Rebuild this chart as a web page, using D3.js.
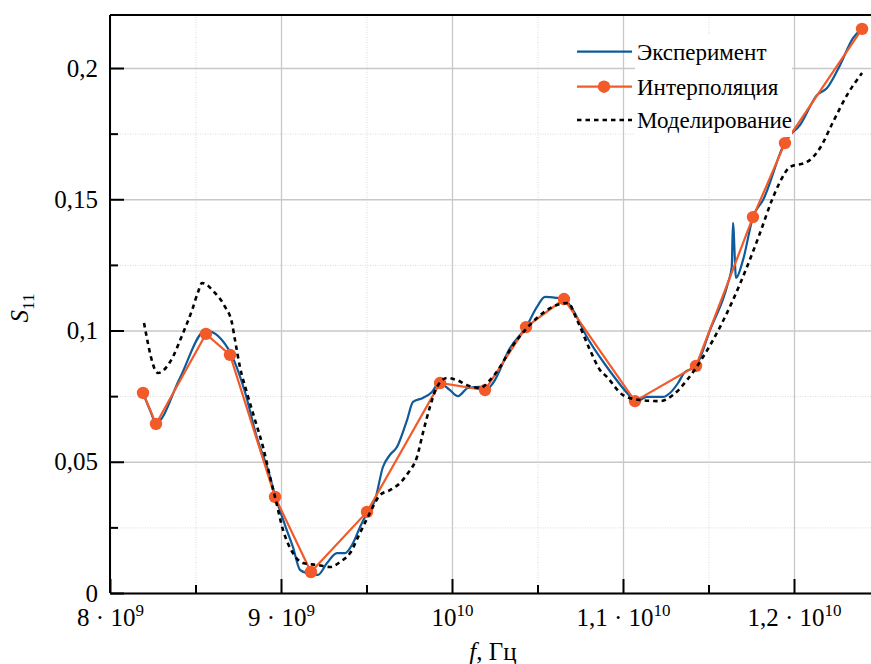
<!DOCTYPE html>
<html><head><meta charset="utf-8">
<script src="https://cdn.jsdelivr.net/npm/d3@7"></script>
<style>body{margin:0;background:#fff;overflow:hidden}</style>
</head><body><svg id="c" width="871" height="664"></svg>
<script>
// ---- data ----
const expF = [8.193e9,8.234e9,8.269e9,8.409e9,8.544e9,8.567e9,8.702e9,8.789e9,8.860e9,8.924e9,8.965e9,9.023e9,9.070e9,9.111e9,9.152e9,9.216e9,9.269e9,9.327e9,9.374e9,9.415e9,9.462e9,9.503e9,9.550e9,9.596e9,9.637e9,9.678e9,9.737e9,9.772e9,9.830e9,9.883e9,9.924e9,9.988e9,10.035e9,10.094e9,10.164e9,10.193e9,10.240e9,10.339e9,10.433e9,10.497e9,10.544e9,10.614e9,10.655e9,10.708e9,10.789e9,10.906e9,11.041e9,11.076e9,11.140e9,11.234e9,11.275e9,11.322e9,11.357e9,11.427e9,11.509e9,11.614e9,11.636e9,11.643e9,11.661e9,11.702e9,11.760e9,11.819e9,11.953e9,12.035e9,12.135e9,12.193e9,12.269e9,12.345e9,12.398e9];
const expS = [0.0762,0.0697,0.0648,0.0819,0.0994,0.0998,0.0918,0.0766,0.0590,0.0469,0.0373,0.0259,0.0175,0.0088,0.0076,0.0069,0.0114,0.0152,0.0152,0.0183,0.0251,0.0305,0.0354,0.0480,0.0526,0.0556,0.0659,0.0728,0.0743,0.0766,0.0800,0.0773,0.0750,0.0781,0.0785,0.0770,0.0800,0.0933,0.1013,0.1090,0.1128,0.1124,0.1120,0.1078,0.0975,0.0861,0.0750,0.0728,0.0747,0.0747,0.0762,0.0800,0.0838,0.0865,0.1002,0.1181,0.1242,0.1410,0.1200,0.1269,0.1432,0.1497,0.1726,0.1783,0.1897,0.1924,0.2011,0.2114,0.2149];

const interpF = [8.193e9,8.269e9,8.561e9,8.702e9,8.965e9,9.175e9,9.503e9,9.930e9,10.193e9,10.433e9,10.655e9,11.070e9,11.427e9,11.760e9,11.947e9,12.398e9];
const interpS = [0.0762,0.0644,0.0987,0.0907,0.0366,0.0080,0.0309,0.0800,0.0773,0.1013,0.1120,0.0731,0.0865,0.1432,0.1714,0.2149];

const modelF = [8.199e9,8.281e9,8.351e9,8.427e9,8.480e9,8.515e9,8.538e9,8.614e9,8.673e9,8.713e9,8.731e9,8.760e9,8.801e9,8.848e9,8.895e9,8.936e9,8.965e9,9.012e9,9.070e9,9.129e9,9.211e9,9.287e9,9.345e9,9.404e9,9.462e9,9.520e9,9.579e9,9.637e9,9.696e9,9.743e9,9.795e9,9.830e9,9.871e9,9.912e9,9.971e9,10.029e9,10.088e9,10.164e9,10.222e9,10.281e9,10.339e9,10.439e9,10.532e9,10.614e9,10.678e9,10.731e9,10.807e9,10.865e9,10.906e9,11.000e9,11.099e9,11.216e9,11.292e9,11.374e9,11.468e9,11.567e9,11.643e9,11.725e9,11.801e9,11.871e9,11.918e9,11.977e9,12.076e9,12.152e9,12.228e9,12.310e9,12.398e9];
const modelS = [0.1029,0.0838,0.0880,0.0990,0.1078,0.1147,0.1181,0.1143,0.1090,0.1029,0.0964,0.0861,0.0762,0.0659,0.0556,0.0442,0.0366,0.0240,0.0152,0.0114,0.0107,0.0099,0.0118,0.0152,0.0229,0.0305,0.0373,0.0392,0.0419,0.0457,0.0518,0.0610,0.0709,0.0785,0.0819,0.0811,0.0792,0.0781,0.0811,0.0861,0.0926,0.1010,0.1067,0.1097,0.1105,0.1040,0.0926,0.0850,0.0823,0.0754,0.0735,0.0731,0.0754,0.0811,0.0899,0.1013,0.1116,0.1242,0.1371,0.1497,0.1566,0.1623,0.1642,0.1695,0.1794,0.1897,0.1981];

const xMajorTicks = [8e9, 9e9, 1e10, 1.1e10, 1.2e10];
const xTickMantissa = ["8", "9", "", "1,1", "1,2"];
const xTickExponent = ["9", "9", "10", "10", "10"];
const xMinorTicks = [8.5e9, 9.5e9, 1.05e10, 1.15e10];
const yMajorTicks = [0, 0.05, 0.1, 0.15, 0.2];
const yTickLabels = ["0", "0,05", "0,1", "0,15", "0,2"];
const yMinorTicks = [0.025, 0.075, 0.125, 0.175];
const seriesNames = ["Эксперимент", "Интерполяция", "Моделирование"];
const xTitle = ["f", ", Гц"];
const yTitle = ["S", "11"];

// ---- layout ----
const L = 110, T = 15, B = 593, R = 879.5;
const FONT = "Liberation Serif";
const BLUE = "#0f5a9a", ORANGE = "#f35a29";

const svg = d3.select("#c");
const x = d3.scaleLinear().domain([8e9, 12.5e9]).range([L, R]);
const y = d3.scaleLinear().domain([0, 0.2202]).range([B, T]);

function grid(g, axis) { g.call(axis); g.select(".domain").remove(); g.selectAll("text").remove(); }
const gMinX = svg.append("g").attr("transform", `translate(0,${B})`);
grid(gMinX, d3.axisBottom(x).tickValues(xMinorTicks).tickSize(-(B - T)).tickFormat(""));
gMinX.selectAll("line").attr("stroke", "#dadada").attr("stroke-width", 1).attr("stroke-dasharray", "1,1.5");
const gMinY = svg.append("g").attr("transform", `translate(${L},0)`);
grid(gMinY, d3.axisLeft(y).tickValues(yMinorTicks).tickSize(-(R - L)).tickFormat(""));
gMinY.selectAll("line").attr("stroke", "#dadada").attr("stroke-width", 1).attr("stroke-dasharray", "1,1.5");
const gMajX = svg.append("g").attr("transform", `translate(0,${B})`);
grid(gMajX, d3.axisBottom(x).tickValues(xMajorTicks).tickSize(-(B - T)).tickFormat(""));
gMajX.selectAll("line").attr("stroke", "#c8c8c8").attr("stroke-width", 1.3);
const gMajY = svg.append("g").attr("transform", `translate(${L},0)`);
grid(gMajY, d3.axisLeft(y).tickValues(yMajorTicks).tickSize(-(R - L)).tickFormat(""));
gMajY.selectAll("line").attr("stroke", "#c8c8c8").attr("stroke-width", 1.3);

// series
const expData = expF.map((f, i) => [f, expS[i]]);
const intData = interpF.map((f, i) => [f, interpS[i]]);
const modData = modelF.map((f, i) => [f, modelS[i]]);

svg.append("path").datum(expData)
  .attr("d", d3.line().x(d => x(d[0])).y(d => y(d[1])).curve(d3.curveMonotoneX))
  .attr("fill", "none").attr("stroke", BLUE).attr("stroke-width", 2.2);
svg.append("path").datum(intData)
  .attr("d", d3.line().x(d => x(d[0])).y(d => y(d[1])))
  .attr("fill", "none").attr("stroke", ORANGE).attr("stroke-width", 2.2);
svg.append("g").selectAll("circle").data(intData).join("circle")
  .attr("cx", d => x(d[0])).attr("cy", d => y(d[1])).attr("r", 6.2).attr("fill", ORANGE);
svg.append("path").datum(modData)
  .attr("d", d3.line().x(d => x(d[0])).y(d => y(d[1])).curve(d3.curveMonotoneX))
  .attr("fill", "none").attr("stroke", "#000").attr("stroke-width", 2.6).attr("stroke-dasharray", "4.5,4");

// frame
svg.append("line").attr("x1", L).attr("x2", 871).attr("y1", T).attr("y2", T).attr("stroke", "#000").attr("stroke-width", 2);

const axX = svg.append("g").attr("transform", `translate(0,${B})`)
  .call(d3.axisBottom(x).tickValues(xMajorTicks).tickSizeInner(-14).tickSizeOuter(0).tickFormat(""));
const axXm = svg.append("g").attr("transform", `translate(0,${B})`)
  .call(d3.axisBottom(x).tickValues(xMinorTicks).tickSizeInner(-8).tickSizeOuter(0).tickFormat(""));
axXm.select(".domain").remove();
const axY = svg.append("g").attr("transform", `translate(${L},0)`)
  .call(d3.axisLeft(y).tickValues(yMajorTicks).tickSizeInner(-14).tickSizeOuter(0).tickPadding(12)
    .tickFormat((d, i) => yTickLabels[i]));
const axYm = svg.append("g").attr("transform", `translate(${L},0)`)
  .call(d3.axisLeft(y).tickValues(yMinorTicks).tickSizeInner(-8).tickSizeOuter(0).tickFormat(""));
axYm.select(".domain").remove();
svg.selectAll(".domain").attr("stroke", "#000").attr("stroke-width", 2);
[axX, axXm, axY, axYm].forEach(g => g.selectAll(".tick line").attr("stroke", "#000").attr("stroke-width", 2));
axY.attr("font-family", FONT).attr("font-size", 25);
axY.selectAll("text").attr("fill", "#000");
axY.select(".domain").attr("d", `M0,${B}V${T}`);
axX.attr("font-family", FONT).attr("font-size", 25);

// x tick labels with exponents
axX.selectAll(".tick").each(function (d, i) {
  const t = d3.select(this).append("text").attr("y", 33).attr("text-anchor", "middle")
    .attr("font-family", FONT).attr("font-size", 25).attr("fill", "#000");
  const m = xTickMantissa[i];
  t.append("tspan").text(m ? m + " \u00B7 10" : "10");
  t.append("tspan").attr("dy", -10).attr("font-size", 17).text(xTickExponent[i]);
});

// axis titles
const xt = svg.append("text").attr("x", 493).attr("y", 660).attr("text-anchor", "middle")
  .attr("font-family", FONT).attr("font-size", 25);
xt.append("tspan").attr("font-style", "italic").text(xTitle[0]);
xt.append("tspan").text(xTitle[1]);
const yt = svg.append("text").attr("transform", "translate(28,308) rotate(-90)").attr("text-anchor", "middle")
  .attr("font-family", FONT).attr("font-size", 25);
yt.append("tspan").attr("font-style", "italic").text(yTitle[0]);
yt.append("tspan").attr("dy", 6).attr("font-size", 17).text(yTitle[1]);

// legend
const lg = svg.append("g");
lg.append("rect").attr("x", 635).attr("y", 35).attr("width", 157).attr("height", 102).attr("fill", "#fff");
const rowsY = [51.7, 86.7, 120];
seriesNames.forEach((name, i) => {
  const ln = lg.append("line").attr("x1", 577).attr("x2", 632).attr("y1", rowsY[i]).attr("y2", rowsY[i]);
  if (i === 0) ln.attr("stroke", BLUE).attr("stroke-width", 2.2);
  if (i === 1) {
    ln.attr("stroke", ORANGE).attr("stroke-width", 2.2);
    lg.append("circle").attr("cx", 604).attr("cy", rowsY[i]).attr("r", 6.2).attr("fill", ORANGE);
  }
  if (i === 2) ln.attr("stroke", "#000").attr("stroke-width", 2.6).attr("stroke-dasharray", "4.5,4");
  lg.append("text").attr("x", 637).attr("y", rowsY[i]).attr("dy", "0.35em")
    .attr("font-family", FONT).attr("font-size", 23).text(name);
});
</script></body></html>
